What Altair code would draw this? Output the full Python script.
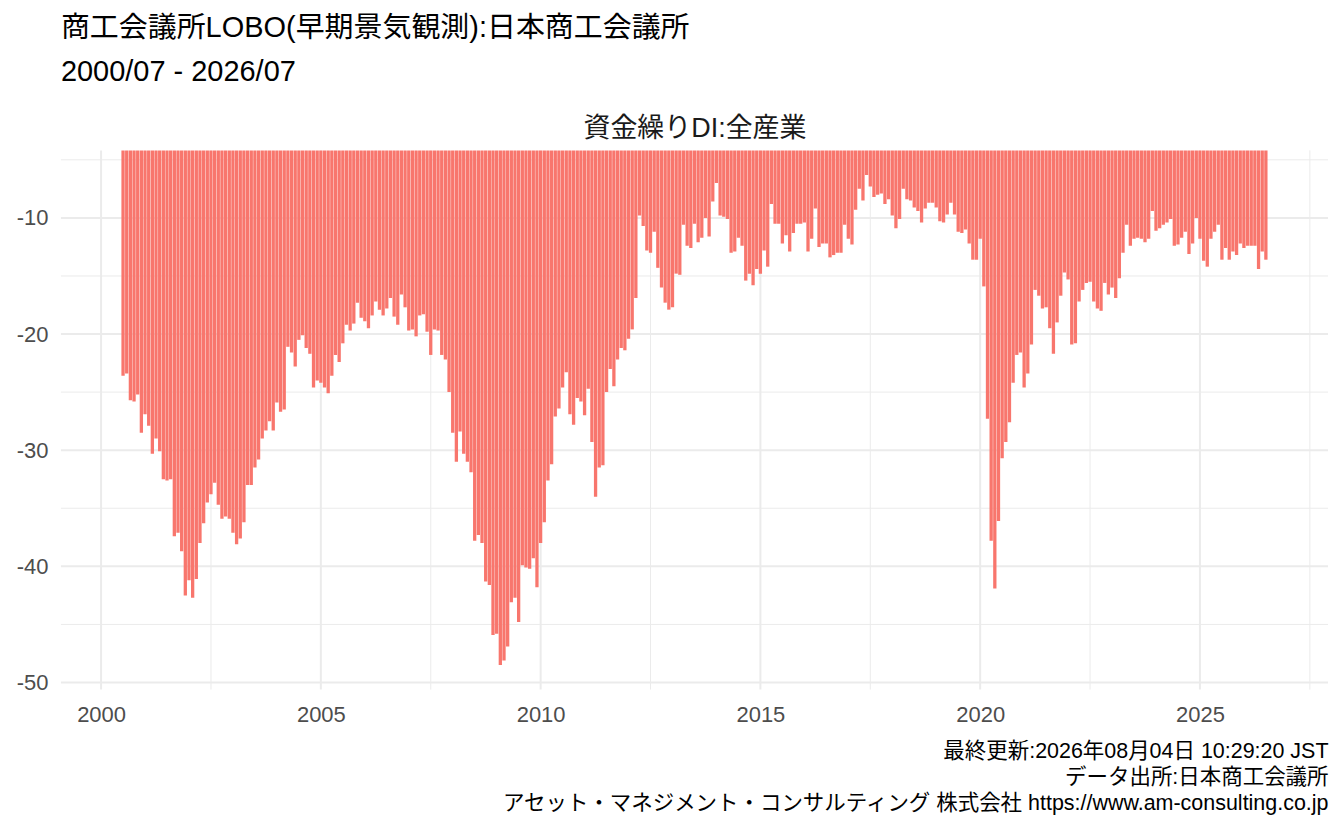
import altair as alt
import pandas as pd

# ---- data ----
START_YEAR, START_MONTH = 2000, 7
values = [
    -23.6, -23.4, -25.7, -25.8, -25.2, -28.5, -26.9, -27.9, -30.3, -29.0,
    -30.1, -32.5, -32.6, -32.5, -37.4, -37.1, -38.7, -42.5, -41.2, -42.7,
    -41.1, -38.0, -36.3, -34.5, -33.8, -32.8, -34.7, -35.9, -35.7, -35.9,
    -37.1, -38.1, -37.6, -36.2, -33.0, -33.0, -31.5, -30.8, -29.0, -28.3,
    -27.5, -28.3, -25.9, -26.7, -26.5, -21.1, -21.6, -22.8, -20.5, -20.1,
    -21.2, -21.7, -24.6, -24.0, -24.2, -24.6, -25.1, -23.6, -21.8, -22.4,
    -20.8, -19.2, -19.7, -19.1, -17.3, -18.6, -18.9, -19.5, -18.4, -17.2,
    -17.9, -18.4, -17.8, -16.9, -18.5, -19.2, -16.6, -17.7, -19.7, -19.6,
    -20.2, -18.4, -18.3, -19.8, -21.8, -19.6, -19.7, -21.8, -22.2, -25.0,
    -28.5, -31.0, -28.4, -30.3, -31.0, -31.9, -37.8, -37.3, -38.0, -41.3,
    -41.6, -45.9, -45.8, -48.5, -48.1, -46.9, -43.1, -42.7, -44.8, -39.9,
    -40.1, -40.2, -39.3, -41.8, -38.0, -36.2, -32.6, -31.2, -27.1, -26.4,
    -24.6, -23.3, -26.9, -27.8, -25.5, -25.8, -27.0, -24.7, -29.3, -34.0,
    -31.5, -31.3, -25.0, -23.0, -24.5, -22.2, -21.2, -21.4, -20.4, -19.6,
    -16.9, -9.8, -10.7, -12.8, -13.0, -11.2, -14.3, -16.0, -17.3, -17.9,
    -17.7, -14.8, -14.9, -10.6, -12.4, -12.6, -10.5, -12.1, -11.7, -10.0,
    -11.6, -8.6, -7.0, -9.8, -9.9, -10.1, -13.0, -12.9, -11.7, -12.4,
    -15.4, -14.8, -15.8, -14.4, -14.8, -12.8, -14.2, -8.8, -10.5, -10.5,
    -12.2, -11.5, -12.9, -11.3, -10.5, -10.5, -10.4, -12.9, -11.8, -9.2,
    -12.5, -12.2, -12.2, -13.4, -13.2, -13.0, -13.0, -10.6, -11.8, -12.3,
    -9.3, -7.5, -8.5, -6.3, -7.3, -8.2, -8.0, -7.9, -8.8, -8.4,
    -9.8, -10.9, -10.1, -7.5, -8.4, -8.5, -9.1, -9.4, -10.4, -9.2,
    -8.7, -8.7, -9.1, -10.3, -10.4, -9.7, -8.7, -9.7, -11.2, -11.3,
    -11.0, -12.2, -13.6, -13.6, -11.8, -15.9, -27.3, -37.8, -41.9, -36.1,
    -30.7, -29.3, -27.6, -24.2, -21.8, -21.6, -24.6, -23.4, -20.9, -16.2,
    -16.7, -17.8, -17.7, -19.5, -21.7, -19.0, -16.7, -14.7, -15.3, -20.9,
    -20.8, -17.2, -16.2, -15.6, -15.5, -17.2, -17.8, -18.0, -15.6, -16.6,
    -16.0, -16.9, -15.2, -13.0, -10.6, -12.4, -11.8, -11.7, -11.8, -12.1,
    -11.8, -9.4, -11.1, -10.9, -10.6, -10.4, -10.1, -12.4, -12.3, -11.7,
    -11.2, -13.1, -12.2, -10.0, -11.8, -13.7, -14.2, -11.8, -11.2, -10.6,
    -13.6, -12.6, -13.6, -12.9, -13.2, -12.2, -12.6, -12.4, -12.4, -12.4,
    -14.4, -12.9, -13.6,
]

x_major = [2000, 2005, 2010, 2015, 2020, 2025]
x_minor = [2002.5, 2007.5, 2012.5, 2017.5, 2022.5, 2027.5]
y_major = [-50, -40, -30, -20, -10]
y_minor = [-45, -35, -25, -15, -5]

title_lines = ["商工会議所LOBO(早期景気観測):日本商工会議所", "2000/07 - 2026/07"]
strip_title = "資金繰りDI:全産業"
caption_lines = [
    "最終更新:2026年08月04日 10:29:20 JST",
    "データ出所:日本商工会議所",
    "アセット・マネジメント・コンサルティング 株式会社 https://www.am-consulting.co.jp",
]

# ---- table ----
t = [START_YEAR + (START_MONTH - 1 + i) / 12 for i in range(len(values))]
df = pd.DataFrame({"t": t, "v": values})

tmin, tmax = min(t), max(t)
vmin, vmax = min(values), max(values)
xs = alt.Scale(domain=[tmin - 0.05 * (tmax - tmin), tmax + 0.05 * (tmax - tmin)], nice=False, zero=False)
ys = alt.Scale(domain=[vmin - 0.05 * (vmax - vmin), vmax + 0.05 * (vmax - vmin)], nice=False, zero=False)

FONT = "Liberation Sans, Noto Sans CJK JP"
GRID = "#EBEBEB"

y_axis = alt.Axis(
    values=y_major, labelExpr="toString(datum.value)", labelFont=FONT,
    labelFontSize=22, labelColor="#4D4D4D", labelPadding=13, ticks=False,
    tickSize=0, domain=False, grid=False, title=None)

minor_x = alt.Chart(pd.DataFrame({"g": x_minor})).mark_rule(color=GRID, strokeWidth=1).encode(
    x=alt.X("g:Q", scale=xs, axis=alt.Axis(
        orient="top", title=strip_title, labels=False, ticks=False, tickSize=0,
        domain=False, grid=False, titleFont=FONT, titleFontSize=27,
        titleFontWeight="normal", titleColor="#1A1A1A", titlePadding=8))
)
major_x = alt.Chart(pd.DataFrame({"g": x_major})).mark_rule(color=GRID, strokeWidth=2).encode(
    x=alt.X("g:Q", scale=xs, axis=None)
)
minor_y = alt.Chart(pd.DataFrame({"g": y_minor})).mark_rule(color=GRID, strokeWidth=1).encode(
    y=alt.Y("g:Q", scale=ys, axis=y_axis)
)
major_y = alt.Chart(pd.DataFrame({"g": y_major})).mark_rule(color=GRID, strokeWidth=2).encode(
    y=alt.Y("g:Q", scale=ys, axis=y_axis)
)

bars = alt.Chart(df).mark_bar(color="#F8766D", width=3.3, clip=True).encode(
    x=alt.X("t:Q", scale=xs, axis=alt.Axis(
        orient="bottom", values=x_major, format="d", labelFont=FONT, labelFontSize=22,
        labelColor="#4D4D4D", labelPadding=15, ticks=False, tickSize=0, domain=False,
        grid=False, title=caption_lines, titleFont=FONT, titleFontSize=21.5,
        titleFontWeight="normal", titleColor="black", titleAnchor="end",
        titleAlign="right", titleLineHeight=26, titlePadding=15)),
    y=alt.Y("v:Q", scale=ys, axis=y_axis),
    y2=alt.datum(0),
)

chart = alt.layer(minor_x, major_x, minor_y, major_y, bars).resolve_axis(
    x="independent"
).properties(
    width=1269,
    height=540,
    background="white",
    title=alt.TitleParams(
        text=title_lines, anchor="start", frame="group", font=FONT, fontSize=29,
        fontWeight="normal", color="black", lineHeight=45, offset=27),
    autosize=alt.AutoSizeParams(type="none"),
    padding={"left": 53, "top": 142, "right": 8, "bottom": 130},
).configure_view(stroke=None)

chart.save("out.html", embed_options={"renderer": "svg", "actions": False})
